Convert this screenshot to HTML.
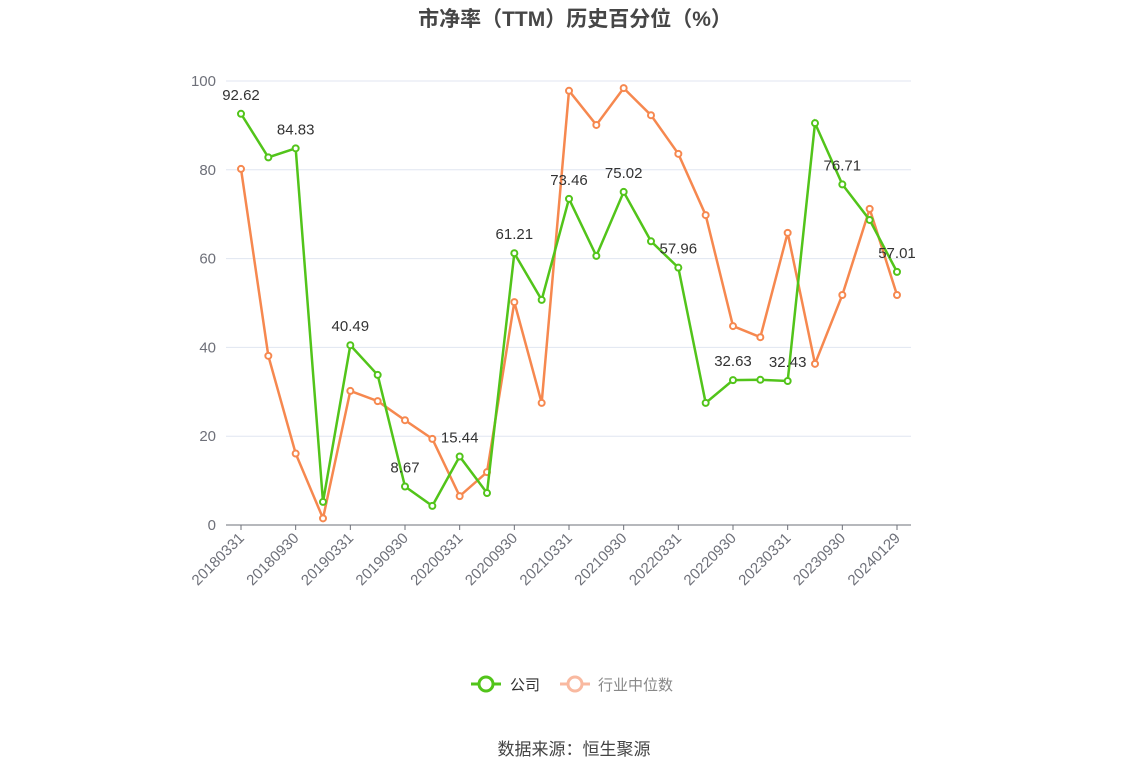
<!DOCTYPE html>
<html><head><meta charset="utf-8"><style>
body{margin:0;background:#fff;}
svg{display:block;font-family:"Liberation Sans","Noto Sans CJK SC",sans-serif;}
</style></head><body>
<svg id="chart" width="1148" height="776">
<text x="575" y="26" text-anchor="middle" font-size="21" font-weight="bold" fill="#464646">市净率（TTM）历史百分位（%）</text>
<g id="grid"></g><g id="xaxis"></g><g id="series"></g>
<g>
<line x1="471" y1="684" x2="501" y2="684" stroke="#52c41a" stroke-width="3"/>
<circle cx="486" cy="684" r="7" fill="#fff" stroke="#52c41a" stroke-width="3"/>
<text x="510" y="690" font-size="15" fill="#333">公司</text>
<line x1="560" y1="684" x2="590" y2="684" stroke="#f9b9a0" stroke-width="3"/>
<circle cx="575" cy="684" r="7" fill="#fff" stroke="#f9b9a0" stroke-width="3"/>
<text x="598" y="690" font-size="15" fill="#888">行业中位数</text>
</g>
<text x="574" y="755" text-anchor="middle" font-size="17" fill="#444">数据来源：恒生聚源</text>
</svg>
<script>
const categories=["20180331","20180630","20180930","20181231","20190331","20190630","20190930","20191231","20200331","20200630","20200930","20201231","20210331","20210630","20210930","20211231","20220331","20220630","20220930","20221231","20230331","20230630","20230930","20231231","20240129"];
const companyValues=[92.62,82.8,84.83,5.2,40.49,33.8,8.67,4.3,15.44,7.2,61.21,50.7,73.46,60.6,75.02,63.9,57.96,27.5,32.63,32.7,32.43,90.5,76.71,68.7,57.01];
const industryValues=[80.2,38.1,16.1,1.5,30.2,27.9,23.6,19.4,6.5,11.9,50.2,27.5,97.8,90.1,98.4,92.3,83.6,69.8,44.8,42.3,65.8,36.3,51.8,71.2,51.8];
const yTicks=[0,20,40,60,80,100];
const NS="http://www.w3.org/2000/svg";
const x0=241,x1=897,yb=525,yt=81;
const xs=i=>x0+(x1-x0)*i/(categories.length-1);
const ys=v=>yb-(yb-yt)*v/100;
function mk(t,a,p){const e=document.createElementNS(NS,t);for(const k in a)e.setAttribute(k,a[k]);p.appendChild(e);return e;}
const grid=document.getElementById('grid');
yTicks.forEach(v=>{
 const l=mk('line',{x1:226,x2:911,y1:ys(v),y2:ys(v),stroke:v===0?'#6e7079':'#e0e6f1','stroke-width':1},grid);
 
 
 const t=mk('text',{x:216,y:ys(v)+5,'text-anchor':'end','font-size':15,fill:'#6e7079'},grid);
 t.textContent=v;
 
 
});
const xa=document.getElementById('xaxis');
categories.forEach((c,i)=>{
 if(i%2)return;
 const x=xs(i);
 const tk=mk('line',{x1:x,x2:x,y1:yb,y2:yb+5,stroke:'#6e7079'},xa);
 
 
 const t=mk('text',{x:x+4,y:yb+14,'text-anchor':'end','font-size':15,fill:'#6e7079',transform:`rotate(-45 ${x+4} ${yb+14})`},xa);
 t.textContent=c;
 
 
});
const sg=document.getElementById('series');
function drawSeries(vals,color,name,labels){
 const p=mk('polyline',{points:vals.map((v,i)=>xs(i)+','+ys(v)).join(' '),fill:'none',stroke:color,'stroke-width':2.5},sg);
 
 
 vals.forEach((v,i)=>{
  const c=mk('circle',{cx:xs(i),cy:ys(v),r:3,fill:'#fff',stroke:color,'stroke-width':2},sg);
  
  
  if(labels&&i%2===0){
   const t=mk('text',{x:xs(i),y:ys(v)-14,'text-anchor':'middle','font-size':15,fill:'#333'},sg);
   t.textContent=v.toFixed(2);
   
   
  }
 });
}
drawSeries(industryValues,'#f6884f','industry',false);
drawSeries(companyValues,'#52c41a','company',true);
</script>
</body></html>
